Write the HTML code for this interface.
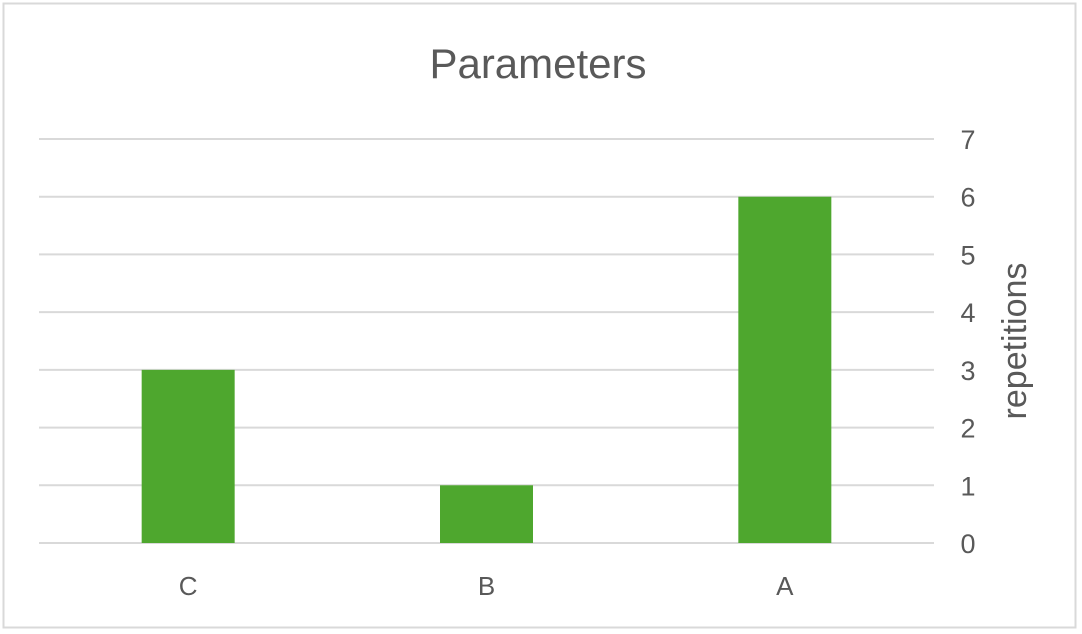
<!DOCTYPE html>
<html><head><meta charset="utf-8"><style>
html,body{margin:0;padding:0;background:#fff;}
svg{display:block;font-family:"Liberation Sans",sans-serif;}
</style></head><body>
<svg id="chart" width="1082" height="634">
<rect x="3.5" y="3.5" width="1072" height="624" fill="#fff" stroke="#d9d9d9" stroke-width="2"/>
<text x="538" y="78" font-size="42" fill="#595959" text-anchor="middle">Parameters</text>
<g id="grid"></g><g id="bars"></g><g id="xlabels"></g><g id="ylabels"></g>
<text transform="translate(1026,341) rotate(-90)" font-size="34" fill="#595959" text-anchor="middle">repetitions</text>
</svg>
<script>
const categories = ["C","B","A"];
const values = [3,1,6];
const yTicks = [0,1,2,3,4,5,6,7];
const ns="http://www.w3.org/2000/svg";
const x0=39,x1=934,yBase=543,yTop=139,yMax=7;
const y=v=>yBase-(yBase-yTop)*v/yMax;
const band=(x1-x0)/categories.length;
const bw=93;
function mk(t,a,p){const e=document.createElementNS(ns,t);for(const k in a)e.setAttribute(k,a[k]);p.appendChild(e);return e;}
const grid=document.getElementById('grid'),bars=document.getElementById('bars'),xl=document.getElementById('xlabels'),yl=document.getElementById('ylabels');
yTicks.forEach(t=>{
  const l=mk('line',{x1:x0,x2:x1,y1:y(t),y2:y(t),stroke:'#d9d9d9','stroke-width':2},grid);
  
  
  const tx=mk('text',{x:968,y:y(t)+10,'font-size':27,fill:'#595959','text-anchor':'middle'},yl);
  tx.textContent=t;
  
  
});
categories.forEach((c,i)=>{
  const cx=x0+band*(i+0.5);
  const r=mk('rect',{x:cx-bw/2,y:y(values[i]),width:bw,height:yBase-y(values[i]),fill:'#4ea72e'},bars);
  
  
  const tx=mk('text',{x:cx,y:595,'font-size':26,fill:'#595959','text-anchor':'middle'},xl);
  tx.textContent=c;
  
  
});
</script>
</body></html>
